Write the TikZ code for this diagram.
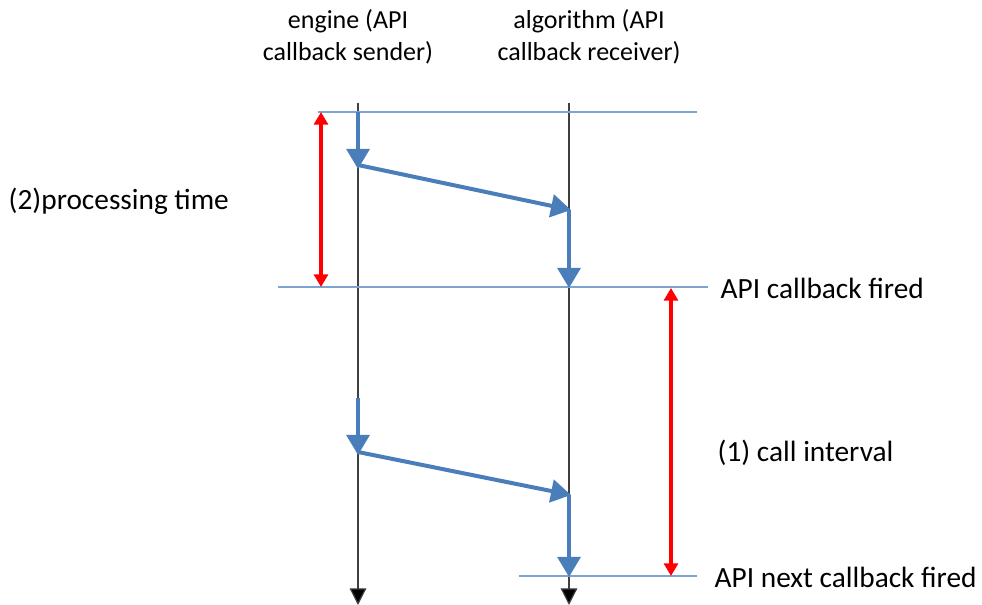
\documentclass[tikz,border=0pt]{standalone}
\usepackage{fontspec}
\setmainfont{Carlito}
\usetikzlibrary{arrows.meta,positioning}

\definecolor{msgblue}{HTML}{4A7EBB}
\definecolor{rulblue}{HTML}{7FA3D0}
\definecolor{lifegray}{HTML}{404040}

\begin{document}
\begin{tikzpicture}[x=0.75pt, y=-0.75pt,
    lifeline/.style={draw=lifegray, line width=0.9pt, -{Triangle[length=12.5pt,width=12.5pt,fill=black]}},
    msg/.style={draw=msgblue, line width=3pt, -{Triangle[length=15pt,width=17pt]}},
    rule/.style={draw=rulblue, line width=0.9pt},
    span/.style={draw=red, line width=2.6pt, {Triangle[length=9.5pt,width=10.5pt]}-{Triangle[length=9.5pt,width=10.5pt]}},
    head/.style={align=center, font=\fontsize{19.5}{24}\selectfont},
    lbl/.style={anchor=west, font=\fontsize{22}{26}\selectfont}]
    \useasboundingbox (0,0) rectangle (982,605);

    % participants
    \node[head] (engine) at (348,37) {engine (API\\callback sender)};
    \node[head] (algo) at (589,37) {algorithm (API\\callback receiver)};

    % lifelines
    \coordinate (e top) at (358,103);
    \coordinate (e end) at (358,605);
    \coordinate (a top) at (569,103);
    \coordinate (a end) at (569,605);
    \draw[lifeline] (e top) -- (e end);
    \draw[lifeline] (a top) -- (a end);

    % time marks
    \coordinate (t1 l) at (318,112);
    \coordinate (t1 r) at (697,112);
    \coordinate (t2 l) at (278,287);
    \coordinate (t2 r) at (708,287);
    \coordinate (t3 l) at (519,576);
    \coordinate (t3 r) at (697,576);
    \draw[rule] (t1 l) -- (t1 r);
    \draw[rule] (t2 l) -- (t2 r);
    \draw[rule] (t3 l) -- (t3 r);

    % first callback
    \coordinate (m1) at (358,112);
    \coordinate (m2) at (358,169);
    \coordinate (m3) at (358,165);
    \coordinate (m4) at (571,210);
    \coordinate (m5) at (569,210);
    \coordinate (m6) at (569,288);
    \draw[msg] (m1) -- (m2);
    \draw[msg] (m3) -- (m4);
    \draw[msg] (m5) -- (m6);

    % next callback
    \coordinate (n1) at (358,398);
    \coordinate (n2) at (358,455);
    \coordinate (n3) at (358,452);
    \coordinate (n4) at (571,495);
    \coordinate (n5) at (569,495);
    \coordinate (n6) at (569,577);
    \draw[msg] (n1) -- (n2);
    \draw[msg] (n3) -- (n4);
    \draw[msg] (n5) -- (n6);

    % durations
    \coordinate (p top) at (321,112);
    \coordinate (p bot) at (321,287);
    \coordinate (c top) at (671,288);
    \coordinate (c bot) at (671,576);
    \draw[span] (p top) -- (p bot);
    \draw[span] (c top) -- (c bot);

    \node[lbl] (proc) at (4,201) {(2)processing time};
    \node[lbl] (fired) at (716,288) {API callback fired};
    \node[lbl] (ival) at (713,453) {(1) call interval};
    \node[lbl] (next) at (710,577) {API next callback fired};
\end{tikzpicture}
\end{document}
